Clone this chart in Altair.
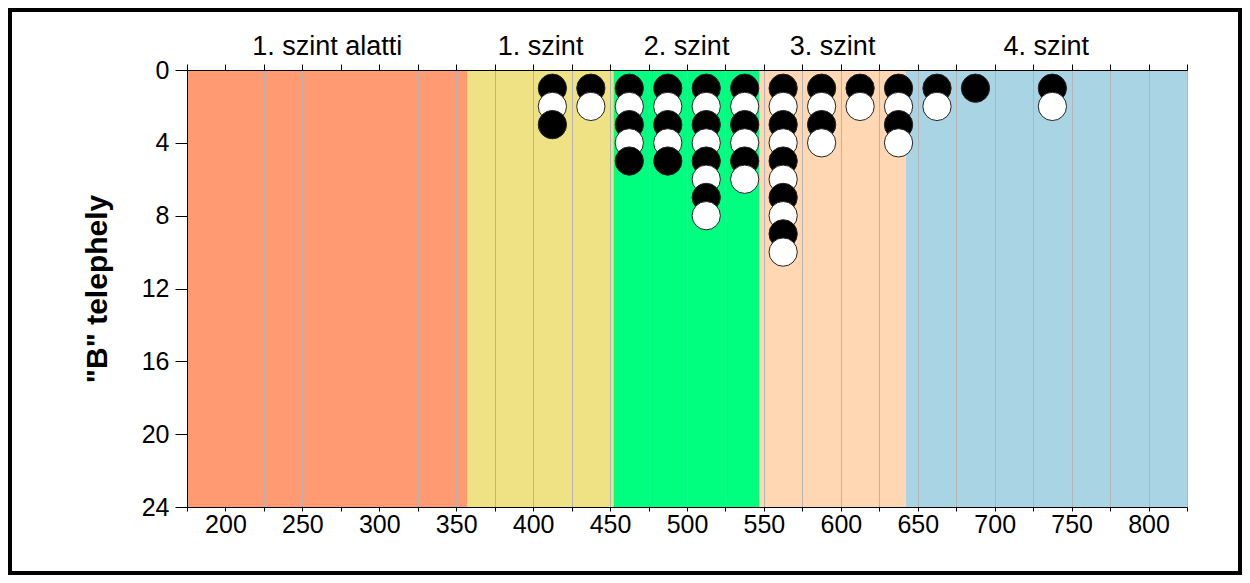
import altair as alt
import pandas as pd

# Bands (score levels)
band_start = [175, 357.4, 452.3, 547.2, 642.1]
band_end = [357.4, 452.3, 547.2, 642.1, 825]
band_label = ["1. szint alatti", "1. szint", "2. szint", "3. szint", "4. szint"]
band_color = ["#FF9A72", "#EEE285", "#00FF7F", "#FFD7B2", "#A8D4E4"]

# Dot columns: score position and number of stacked students
col_x = [412.5, 437.5, 462.5, 487.5, 512.5, 537.5, 562.5, 587.5, 612.5, 637.5, 662.5, 687.5, 737.5]
col_count = [3, 2, 5, 5, 8, 6, 10, 4, 2, 4, 2, 1, 2]

x_ticks = list(range(175, 826, 25))
y_ticks = [0, 4, 8, 12, 16, 20, 24]

FONT = "Liberation Sans"
W, H = 1000, 437

bands = pd.DataFrame({"start": band_start, "end": band_end,
                      "label": band_label, "color": band_color})
bands["mid"] = (bands["start"] + bands["end"]) / 2

rows = []
for x, n in zip(col_x, col_count):
    for k in range(1, n + 1):
        rows.append({"x": x, "y": k, "kind": "fekete" if k % 2 == 1 else "fehér"})
dots = pd.DataFrame(rows)

xscale = alt.Scale(domain=[175, 825], nice=False, zero=False)
yscale = alt.Scale(domain=[0, 24], nice=False, reverse=True)

band_layer = alt.Chart(bands).mark_rect().encode(
    x=alt.X("start:Q", scale=xscale, title=None,
            axis=alt.Axis(orient="bottom", values=x_ticks, tickSize=4,
                          labelExpr="datum.value % 50 == 0 ? datum.label : ''",
                          labelFontSize=25, labelFont=FONT, labelColor="black",
                          labelPadding=1, domainColor="black", tickColor="black",
                          grid=True, gridColor="#B4B4B4", gridWidth=1, zindex=1,
                          labelOverlap=False, labelFlush=False)),
    x2="end:Q",
    y=alt.value(0),
    y2=alt.value(H),
    color=alt.Color("color:N", scale=None),
)

label_layer = alt.Chart(bands).mark_text(
    font=FONT, fontSize=27, color="black", baseline="alphabetic", align="center"
).encode(
    x=alt.X("mid:Q", scale=xscale, axis=None),
    y=alt.value(-15),
    text="label:N",
)

dot_layer = alt.Chart(dots).mark_point(
    filled=True, shape="circle", size=800, opacity=1, stroke="#222222", strokeWidth=1
).encode(
    x=alt.X("x:Q", scale=xscale, title=None,
            axis=alt.Axis(orient="top", values=x_ticks, labels=False, tickSize=6,
                          domainColor="black", tickColor="black", grid=False, zindex=1)),
    y=alt.Y("y:Q", scale=yscale, title='"B" telephely',
            axis=alt.Axis(values=y_ticks, tickSize=12, labelFontSize=25, labelFont=FONT,
                          labelColor="black", labelPadding=6, domainColor="black",
                          tickColor="black", grid=False, zindex=1,
                          titleFont=FONT, titleFontSize=30, titleFontWeight="bold",
                          titleColor="black", titleAngle=270, titleX=-90, titleY=H / 2,
                          titleAlign="center", titleBaseline="middle")),
    fill=alt.Fill("kind:N", scale=alt.Scale(domain=["fekete", "fehér"],
                                              range=["black", "white"]), legend=None),
    order=alt.Order("y:Q"),
)

frame = alt.Chart(pd.DataFrame({"a": [0]})).mark_rect(
    fill=None, stroke="black", strokeWidth=4
).encode(
    x=alt.value(-177), x2=alt.value(W + 53),
    y=alt.value(-60), y2=alt.value(H + 66),
)

chart = alt.layer(band_layer, label_layer, dot_layer, frame).resolve_axis(
    x="independent"
).properties(
    width=W, height=H,
    autosize=alt.AutoSizeParams(type="none"),
    padding={"left": 179, "top": 62, "right": 55, "bottom": 68},
    background="white",
).configure_view(stroke=None)

chart.save("out.html", embed_options={"renderer": "svg", "actions": False})
